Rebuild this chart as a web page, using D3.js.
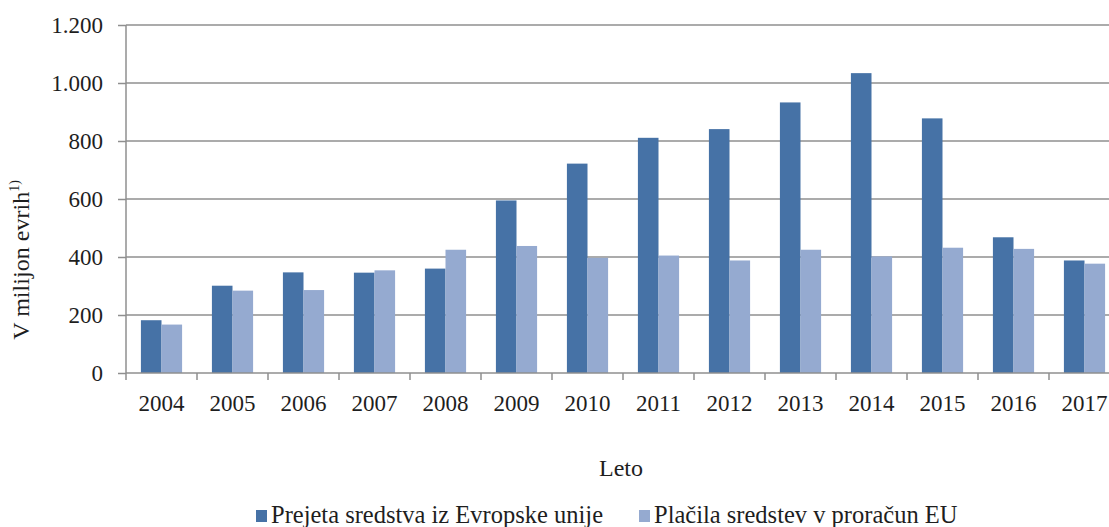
<!DOCTYPE html>
<html>
<head>
<meta charset="utf-8">
<script src="https://cdn.jsdelivr.net/npm/d3@7"></script>
<style>
  html, body { margin: 0; padding: 0; background: #fff; overflow: hidden; }
  svg { display: block; }
</style>
</head>
<body>
<svg id="chart" width="1109" height="527"></svg>
<script>
const years = ["2004","2005","2006","2007","2008","2009","2010","2011","2012","2013","2014","2015","2016","2017"];
const received = [182, 301, 347, 346, 360, 595, 722, 811, 841, 933, 1034, 878, 468, 388];
const payments = [167, 284, 286, 354, 425, 438, 397, 405, 388, 425, 402, 432, 428, 377];
const seriesNames = ["Prejeta sredstva iz Evropske unije", "Plačila sredstev v proračun EU"];
const yTicks = [0, 200, 400, 600, 800, 1000, 1200];
const yLabel = "V milijon evrih";
const xLabel = "Leto";

(function () {
const FONT = "Liberation Serif";
const colors = ["#4672a6", "#95aad0"];
const axisColor = "#8f8f8f";
const textColor = "#1e1e1e";

const svg = d3.select("#chart");
const pl = 126, pr = 1120, pt = 25, pb = 373;

const x0 = d3.scaleBand().domain(years).range([pl, pr]).paddingInner(0.42).paddingOuter(0.21);
const x1 = d3.scaleBand().domain([0, 1]).range([0, x0.bandwidth()]).padding(0);
const y = d3.scaleLinear().domain([0, 1200]).range([pb, pt]);

const fmt = d => d === 0 ? "0" : d3.format(",")(d).replace(/,/g, ".");

// gridlines
svg.append("g").selectAll("line").data(yTicks.filter(d => d > 0)).join("line")
  .attr("x1", pl).attr("x2", 1109)
  .attr("y1", d => y(d)).attr("y2", d => y(d))
  .attr("stroke", axisColor).attr("stroke-width", 1.5);

// bars
const data = years.map((yr, i) => ({ year: yr, vals: [received[i], payments[i]] }));
const groups = svg.append("g").selectAll("g").data(data).join("g")
  .attr("transform", d => `translate(${x0(d.year)},0)`);
groups.selectAll("rect").data(d => d.vals.map((v, k) => ({ v, k }))).join("rect")
  .attr("x", d => x1(d.k))
  .attr("width", x1.bandwidth())
  .attr("y", d => y(d.v))
  .attr("height", d => y(0) - y(d.v))
  .attr("fill", d => colors[d.k]);

// y axis
const yAxis = d3.axisLeft(y).tickValues(yTicks).tickFormat(fmt).tickSize(8).tickPadding(15);
const gy = svg.append("g").attr("transform", `translate(${pl},0)`).call(yAxis)
  .attr("font-family", FONT).attr("font-size", 23);
gy.select(".domain").attr("stroke", axisColor).attr("stroke-width", 1.5).attr("d", `M0,${pt}V${pb}`);
gy.selectAll(".tick line").attr("stroke", axisColor).attr("stroke-width", 1.5);
gy.selectAll(".tick text").attr("fill", textColor);

// x axis
const xAxis = d3.axisBottom(x0).tickSize(0).tickPadding(22);
const gx = svg.append("g").attr("transform", `translate(0,${pb})`).call(xAxis)
  .attr("font-family", FONT).attr("font-size", 23);
gx.select(".domain").attr("stroke", axisColor).attr("stroke-width", 1.5).attr("d", `M${pl},0H${pr}`);
gx.selectAll(".tick text").attr("fill", textColor);
// boundary tick marks
const step = x0.step();
const bounds = d3.range(years.length + 1).map(i => pl + i * step);
svg.append("g").selectAll("line").data(bounds).join("line")
  .attr("x1", d => d).attr("x2", d => d)
  .attr("y1", pb).attr("y2", pb + 7)
  .attr("stroke", axisColor).attr("stroke-width", 1.5);

// y label (rotated), fitted to span y 180..340
const yl = svg.append("text")
  .attr("font-family", FONT).attr("fill", textColor)
  .attr("text-anchor", "middle")
  .attr("font-size", 22);
yl.append("tspan").text(yLabel);
const sup = yl.append("tspan").attr("dy", -9).attr("font-size", 13).text("1)");
const len0 = yl.node().getComputedTextLength();
const fs = 22 * 160 / len0;
yl.attr("font-size", fs);
sup.attr("font-size", fs * 0.58).attr("dy", -fs * 0.4);
yl.attr("transform", `translate(29,260) rotate(-90)`);

// x label
svg.append("text")
  .attr("x", (pl + pr) / 2 - 2).attr("y", 476)
  .attr("text-anchor", "middle").attr("font-size", 24)
  .attr("font-family", FONT).attr("fill", textColor)
  .text(xLabel);

// legend
const legendItems = [
  { name: seriesNames[0], color: colors[0], x: 256 },
  { name: seriesNames[1], color: colors[1], x: 639 }
];
const li = svg.append("g").selectAll("g").data(legendItems).join("g")
  .attr("transform", d => `translate(${d.x},0)`);
li.append("rect").attr("x", 0).attr("y", 510).attr("width", 11).attr("height", 12)
  .attr("fill", d => d.color);
li.append("text").attr("x", 15).attr("y", 523).attr("font-size", 24.5)
  .attr("font-family", FONT).attr("fill", textColor)
  .text(d => d.name);
})();
</script>
</body>
</html>
